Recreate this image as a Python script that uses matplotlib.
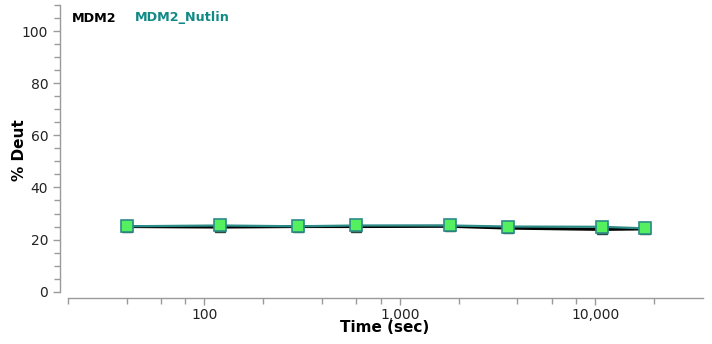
import matplotlib
matplotlib.use("Agg")
import matplotlib.pyplot as plt
from matplotlib.ticker import FixedLocator, FuncFormatter, NullFormatter

# exchange times (sec) and deuteration (%)
times = [40, 120, 300, 600, 1800, 3600, 10800, 18000]
mdm2 = [25.0, 24.8, 25.0, 25.0, 25.1, 24.4, 23.9, 24.1]
mdm2_nutlin = [25.1, 25.4, 25.1, 25.4, 25.4, 25.0, 24.9, 24.3]

major_x = [100, 1000, 10000]
minor_x = [20, 40, 60, 80, 200, 400, 600, 800, 2000, 4000, 6000, 8000, 20000]

fig = plt.figure(figsize=(7.12, 3.44), dpi=100)
ax = fig.add_axes([67.7/712, (344-291.7)/344, (702.7-67.7)/712, (291.7-5)/344])

gray = "#9a9a9a"
teal = "#2b8c88"

ax.plot(times, mdm2, color="black", lw=2.2, marker="s", ms=7.5,
        mfc="#3c6a50", mec="#2a4a40", zorder=2)
ax.plot(times, mdm2_nutlin, color=teal, lw=1.6, marker="s", ms=8,
        mfc="#55f060", mec=teal, mew=1.2, zorder=3)

ax.set_xscale("log")
ax.set_xlim(20, 35500)
ax.set_ylim(0, 110)

ax.xaxis.set_major_locator(FixedLocator(major_x))
ax.xaxis.set_minor_locator(FixedLocator(minor_x))
ax.xaxis.set_major_formatter(FuncFormatter(lambda v, p: f"{int(v):,}"))
ax.xaxis.set_minor_formatter(NullFormatter())
ax.set_yticks([0, 20, 40, 60, 80, 100])
ax.set_yticks(range(0, 111, 5), minor=True)

for s in ["top", "right"]:
    ax.spines[s].set_visible(False)
ax.spines["left"].set_position(("outward", 5.5))
ax.spines["bottom"].set_position(("outward", 4.5))
ax.spines["left"].set_bounds(0, 110)
for s in ["left", "bottom"]:
    ax.spines[s].set_color(gray)
    ax.spines[s].set_linewidth(1.0)

ax.tick_params(axis="both", which="major", length=5, width=1, color=gray,
               labelsize=10, labelcolor="#222222")
ax.tick_params(axis="both", which="minor", length=4, width=1, color=gray)
ax.tick_params(axis="x", pad=2)

fig.text(385/712, 1 - 328/344, "Time (sec)", fontsize=11, fontweight="bold",
         ha="center", va="center")
fig.text(20/712, 1 - 150/344, "% Deut", fontsize=11, fontweight="bold",
         ha="center", va="center", rotation=90)

fig.text(72/712, 1 - 18/344, "MDM2", fontsize=9.2, fontweight="bold",
         color="black", va="center")
fig.text(135/712, 1 - 18/344, "MDM2_Nutlin", fontsize=9.2, fontweight="bold",
         color="#118a86", va="center")

fig.savefig("out.png", dpi=100)
